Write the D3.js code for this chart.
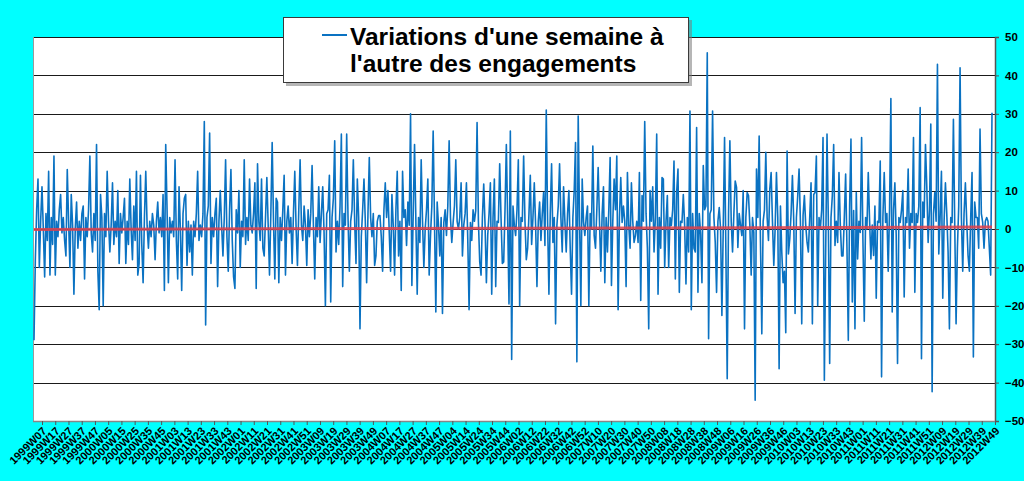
<!DOCTYPE html>
<html>
<head>
<meta charset="utf-8">
<script src="https://cdn.jsdelivr.net/npm/d3@7"></script>
<style>
  body { margin: 0; background: #00ffff; }
  svg { display: block; font-family: "Liberation Sans", Arial, sans-serif; }
</style>
</head>
<body>
<svg id="chart" width="1024" height="481"></svg>
<script>
// Weekly variations, 1999W07 .. 2012W49 (one value per week)
var variations = [
  -29, -8, 5, 13, -10, 2, 11, 0, -12.5, 4,
  -3, 15, -12, 3, -4, 19, -12, 2, -2, 5,
  9, -1, 3, -3, -7, 15.5, 2, -10, 9, 1,
  -17, 0, 7, -5, 2, -3, 4, 6, -13, 3,
  -2, 5, 19, -1, -6, 4, -3, 22, -11, -21,
  9, 3, -20, 4, -2, 15, 2, -6, 1, 12,
  -4, 2, -2, 10, -9, 4, -1, 3, 8, -9,
  2, -4, 13, 0, -8, 6, -3, 15, -12, -9,
  14, -4, -14, 3, 15, 1, -5, 2, -2, 4,
  1, -8, 2, 7, -1, 3, -2, 9, -16, 22,
  5, -14, 3, -1, 2, -2, 18, -3, -13, 11,
  0, -16, 4, 8, 9, -9.5, 2, -6, 1, -12,
  2, -2, 4, 15, -3, 1, -2, 4, 28, -25,
  3, 6, 25, -9, 3, -2, 4, 8, -15, 2,
  10, 1, -7, 3, 18, -2, -11, 5, 15.5, -3,
  -12.5, -15.5, 5, -1, 10, -10, 2, -2, 18, -4,
  3, -3, 13, 1, -1, 4, 12, -15.5, 17, 2,
  -3, 13, -5, -7, 3, 13.4, 1, -12, 4, 22.5,
  2, -13, 8, 7, -14, 3, -3, 5, 14, -12,
  2, 6, -1, 3, -9, 4, 15, 0, -9.5, 5,
  18, 1, -3, 6, 1, -9.5, 5, -2, 4, 16.5,
  1, -13, 3, -2, 11, -3.5, 4, 11, -1, -20,
  4, 5, 14, -19, 3, 8, 23, -6, 2, -4,
  6, 24.7, -15, 4, 1, 24.7, 3, -11, 2, 5,
  18, 2, -9, 13, 3, -26, -2, 5, 13, 2,
  -14, 4, 18.6, 3, -2, 4, -9.5, -7, 2, 3.5,
  3.5, -2, -11, 5, 12, 3, 10, -1, -11, 9,
  1, -12, 5, 15, -7, 2, -16, 15, 3, 5,
  -4.3, 7, 1, 30, -14.7, 4, 22, 2, -17, 3,
  -3.5, 18, 2, -10, 0, 5, 13, -12, -1.7, 6,
  25.5, 2, -21.6, 7, 1, -7, 3, -22, 1.7, 5,
  -1.7, 6, 23, 3, -3.5, 1.7, 6, 18, 2, 0,
  3, 12, -7, 1, 4, 12, -2.6, -21, 1.7, -3,
  5, 2, 4.8, 27.7, 2, -8.6, -12, 3, 11.7, 1,
  -14, -1.7, 4, 12, -17, 3, 13, -15, 2, 1.7,
  17, 3, -9, -8.6, 5, 22, 2, -19.5, 25.5, -34,
  6, 1, -1.7, 5, 18, -20, 3, 2, 19, 2,
  -8, -5, 4, 14, -4, 3, 12, 1, -15, 2,
  7, -3, 4, 9.5, -4.3, 31, 2, -17, 4, 17,
  -3.5, 3, -24.7, 1, 6, 17, 3, -6, 11, 2,
  -6, 4, 10, -5, -17, 3, 10, 22.5, -34.6, 29.4,
  3, -20, 13, 2, -1.7, 3, 6, -20, 4, 0,
  21.6, -1.7, -5, 5, 16, 2, -11, 4, 11, -14,
  3, -6, 5, 18.6, -14.7, 2, 13, 5, 19, -21,
  3, 13.4, 1.7, 6, 2, -15, 14.7, 1, -5, 12,
  2, -3.5, -1.7, 2, -3.5, 14.7, -18.6, 8.7, 2, 28,
  4, -5, -26, 10, 2, 11, -6, 3, 24.7, -17,
  3, -5, 13.4, 13, -10, 2, 8.7, -10, 3, 0.9,
  5, 17.7, -13, 9.5, 15.6, -16.5, 2, 1.7, 9, 1,
  -14.3, 3, -6, 30.7, -21, 4, -5, -6, 26.4, -16.5,
  4, -1.3, -14, 16.5, 5, 6, 45.9, -28.6, 4, 5,
  30.7, 3, -3.5, -16.5, 2, 5.6, 0, -22.5, 0, 23.8,
  -6, -39, 4, 23, 2, -6, 4, 12.5, 10.8, -4.8,
  4, 1, -1.7, 10, -26, 3, 9.5, 8.7, 1, -12,
  3, -0.9, -44.6, 15.6, 3, 24.2, -3.5, -27.3, 2, 5,
  20, 3, -3, 10.4, 14.7, 2, -9.5, 0, 14.7, 3,
  -36.4, 6, -6, -14, -11, -27, 20.3, -6.5, -2.6, 4,
  13.9, 2, -22, 3, 8.7, 15.6, 2, -24.7, 3.5, 8.7,
  1, -3.5, -6, 3, 12, -24.7, 9, 9.5, 19, -20,
  3, 0, 5, 23.8, -39.4, -6, 24.7, 2, -35, 3,
  8.7, 22, -4.3, 2, -3.5, 14.7, 1, -7, -7, 3,
  14.3, -5, -29, 6, 23.4, -19, 4.8, -26, 9.5, -7.8,
  2, -0.9, 23.8, -3, -24, 3, 0, 14.7, 2, -7.8,
  1, -6.9, 6, -18, 2, 1.7, 17.7, -38.5, 3, 14.7,
  1.7, 4, -11, 5, 34, -21.6, 5, 12, -1.7, -35,
  3, 1.7, 5, 10, -17.7, 3, 1.7, 15.6, -5, 4,
  1.7, 23.8, -16.5, 4, 1.7, 6, 31.6, -33.8, 7, 3,
  22, 11, -3.5, 5, 27.3, -42.4, 4, 9.5, 2, 42.9,
  -6.5, 3, 15, -18, 2, 12, 4, -6, -26, 3,
  1.7, 28.6, 1, -24.7, -5, 6, 42, 3, -11, 4,
  12, 2, -6.9, -11, 3, 14.7, -33.3, 7, 3, 3,
  -5, 26, 4, 1.7, -5, 2, 3, 2, -5, -12,
  30.3
];

// one label every 10 weeks
var weekLabels = [
  "1999W07","1999W17","1999W27","1999W37","1999W47","2000W05","2000W15","2000W25","2000W35","2000W45",
  "2001W03","2001W13","2001W23","2001W33","2001W43","2002W01","2002W11","2002W21","2002W31","2002W41",
  "2002W51","2003W09","2003W19","2003W29","2003W39","2003W49","2004W07","2004W17","2004W27","2004W37",
  "2004W47","2005W04","2005W14","2005W24","2005W34","2005W44","2006W02","2006W12","2006W22","2006W32",
  "2006W42","2006W52","2007W10","2007W20","2007W30","2007W40","2007W50","2008W08","2008W18","2008W28",
  "2008W38","2008W48","2009W06","2009W16","2009W26","2009W36","2009W46","2010W03","2010W13","2010W23",
  "2010W33","2010W43","2011W01","2011W11","2011W21","2011W31","2011W41","2011W51","2012W09","2012W19",
  "2012W29","2012W39","2012W49"
];

var yTicks = [-50, -40, -30, -20, -10, 0, 10, 20, 30, 40, 50];
var trendEnds = [-0.1, 0.5];   // linear trend (red), start and end value
var titleLines = ["Variations d'une semaine à", "l'autre des engagements"];

var svg = d3.select("#chart");
var plotLeft = 33, plotRight = 995, plotTop = 37, plotBottom = 421;

var x = d3.scaleLinear().domain([0, variations.length - 1]).range([34, 992]);
// category ticks sit a little to the right of the points, as Excel draws them
var xTick = d3.scaleLinear().domain([0, variations.length - 1]).range([42, 995]);
var y = d3.scaleLinear().domain([-50, 50]).range([plotBottom, plotTop]);

// plot area
svg.append("rect")
  .attr("x", plotLeft).attr("y", plotTop)
  .attr("width", plotRight - plotLeft).attr("height", plotBottom - plotTop)
  .attr("fill", "#ffffff");

// gridlines
svg.append("g").selectAll("line")
  .data(yTicks)
  .enter().append("line")
  .attr("x1", plotLeft).attr("x2", plotRight)
  .attr("y1", function(d){ return Math.round(y(d)) + 0.5; })
  .attr("y2", function(d){ return Math.round(y(d)) + 0.5; })
  .attr("stroke", "#1a1a1a").attr("stroke-width", 1);

// left border of plot area
svg.append("line")
  .attr("x1", plotLeft + 0.5).attr("x2", plotLeft + 0.5)
  .attr("y1", plotTop).attr("y2", plotBottom)
  .attr("stroke", "#9a9a9a");

// series
var line = d3.line()
  .x(function(d, i){ return x(i); })
  .y(function(d){ return y(d); });

svg.append("path")
  .datum(variations)
  .attr("d", line)
  .attr("fill", "none")
  .attr("stroke", "#0a72c2")
  .attr("stroke-width", 1.6)
  .attr("stroke-linejoin", "round");

// trend line
svg.append("line")
  .attr("x1", x(0)).attr("x2", x(variations.length - 1))
  .attr("y1", y(trendEnds[0])).attr("y2", y(trendEnds[1]))
  .attr("stroke", "#e0404a").attr("stroke-width", 3)
  .attr("stroke-opacity", 0.85);

// right axis
var yAxis = svg.append("g")
  .attr("transform", "translate(" + plotRight + ",0)")
  .call(d3.axisRight(y).tickValues(yTicks).tickSize(4).tickPadding(6).tickFormat(d3.format("d")));
yAxis.select(".domain").attr("stroke", "#555").attr("stroke-width", 1.5);
yAxis.selectAll(".tick line").attr("stroke", "#555");
yAxis.selectAll("text")
  .attr("font-size", 11.5).attr("font-weight", "bold").attr("fill", "#000");

// bottom axis
var labelIdx = weekLabels.map(function(d, i){ return i * 10; });
var xAxis = svg.append("g")
  .attr("transform", "translate(0," + plotBottom + ")")
  .call(d3.axisBottom(xTick).tickValues(labelIdx).tickSize(4)
    .tickFormat(function(d){ return weekLabels[d / 10]; }));
xAxis.select(".domain")
  .attr("d", "M" + plotLeft + ",0.5H" + plotRight)
  .attr("stroke", "#888").attr("stroke-width", 1.5);
xAxis.selectAll(".tick line").attr("stroke", "#555");
xAxis.selectAll("text")
  .attr("x", 0).attr("y", 0).attr("dy", "0.35em")
  .attr("transform", "translate(2,8) rotate(-45)")
  .attr("text-anchor", "end")
  .attr("font-size", 11).attr("font-weight", "bold").attr("fill", "#000");

// legend / title box
var box = svg.append("g");
box.append("rect")
  .attr("x", 286).attr("y", 20).attr("width", 406).attr("height", 66)
  .attr("fill", "#7a7a7a").attr("opacity", 0.55);
box.append("rect")
  .attr("x", 283.5).attr("y", 17.5).attr("width", 405).attr("height", 65)
  .attr("fill", "#ffffff").attr("stroke", "#3a3a3a").attr("stroke-width", 1);
box.append("line")
  .attr("x1", 322).attr("x2", 347).attr("y1", 35).attr("y2", 35)
  .attr("stroke", "#0a72c2").attr("stroke-width", 2);
box.selectAll("text.title")
  .data(titleLines)
  .enter().append("text")
  .attr("class", "title")
  .attr("x", 350)
  .attr("y", function(d, i){ return 45 + i * 27; })
  .attr("font-size", 24.5).attr("font-weight", "bold").attr("fill", "#000")
  .text(function(d){ return d; });
</script>
</body>
</html>
